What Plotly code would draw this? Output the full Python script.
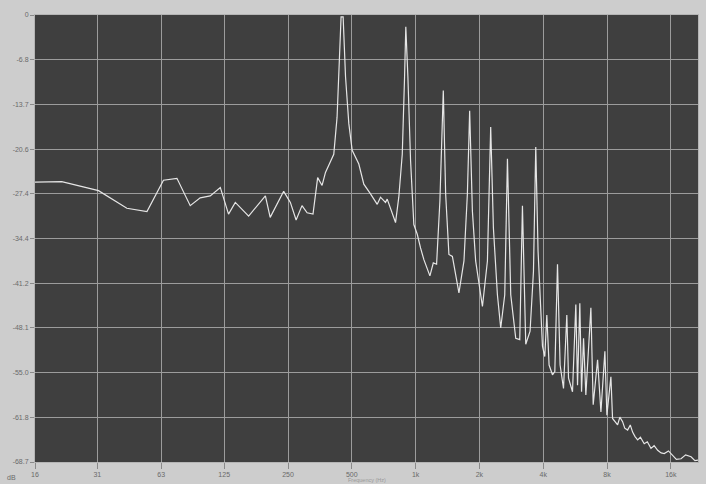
import math
import plotly.graph_objects as go

# Spectrum trace: frequency (Hz) and level (dB)
freq_hz = [16, 21.4, 31.9, 43.4, 54, 64.6, 74.8, 86.4, 96.3, 107.4, 119.8, 131, 141, 163,
           195.5, 206, 238.5, 256.5, 273, 291, 307.7, 328, 345, 362, 375.6, 396.5, 411, 426,
           438.7, 445, 455, 467, 484, 502, 539.5, 569.7, 612.6, 659, 683, 721, 734.5, 776,
           804, 833, 865, 887, 899, 919.5, 946.7, 981, 1018,
           1055, 1094, 1168, 1212, 1256, 1302, 1351, 1386, 1436, 1491, 1601, 1691, 1755, 1799,
           1853, 1920, 2067, 2182, 2261, 2328, 2432, 2521, 2634, 2712, 2811, 2968, 3100, 3192,
           3309, 3468, 3598, 3689, 3783, 3968, 4070, 4160, 4264, 4424, 4538, 4672, 4806, 4987,
           5170, 5267, 5499, 5701, 5808, 5955, 6067, 6200, 6357, 6715, 6885, 7221, 7488, 7818,
           7990, 8346, 8498, 8976, 9200, 9477, 9700, 10008, 10300, 10565, 10850, 11158, 11500,
           11986, 12400, 12898, 13350, 13872, 14400, 14901, 15600, 16328, 17000, 17881, 18800,
           19937, 20800, 21741]
level_db = [-25.7, -25.6, -27.0, -29.7, -30.2, -25.4, -25.1, -29.3, -28.1, -27.8, -26.5, -30.6,
            -28.8, -30.9, -27.8, -31.1, -27.1, -28.8, -31.5, -29.3, -30.4, -30.6, -25.0, -26.2,
            -24.2, -22.6, -21.4, -15.7, -4.4, -0.3, -0.3, -9.5, -16.7, -20.8, -22.9, -26.0,
            -27.5, -29.1, -28.0, -28.8, -28.3, -30.4, -31.9, -28.0, -21.4, -9.5, -1.8, -9.5,
            -22.4, -32.2, -33.7,
            -35.8, -37.6, -40.1, -38.1, -38.3, -28.6, -11.6, -27.5, -36.8, -37.1, -42.7, -37.8,
            -27.5, -14.7, -30.1, -37.8, -44.8, -37.8, -17.2, -32.7, -43.0, -48.1, -43.0, -22.1,
            -43.0, -49.7, -49.9, -29.3, -50.6, -48.6, -39.4, -20.3, -36.3, -50.9, -52.5, -46.1,
            -53.8, -55.3, -54.8, -38.3, -53.8, -57.4, -46.1, -55.8, -57.9, -44.5, -56.9, -44.3,
            -57.9, -49.7, -58.4, -45.0, -59.9, -53.0, -61.0, -51.7, -61.5, -55.6, -62.0, -63.0,
            -61.8, -62.5, -63.5, -63.8, -63.0, -64.1, -64.8, -65.3, -64.9, -65.9, -65.6, -66.6,
            -66.2, -66.9, -67.3, -67.4, -67.0, -67.7, -68.3, -68.2, -67.6, -67.9, -68.5, -68.4]

x_tick_vals = [16, 31.5, 63, 125, 250, 500, 1000, 2000, 4000, 8000, 16000]
x_tick_text = ["16", "31", "63", "125", "250", "500", "1k", "2k", "4k", "8k", "16k"]
y_tick_vals = [0, -6.87, -13.74, -20.61, -27.48, -34.35, -41.22, -48.09, -54.96, -61.83, -68.7]
y_tick_text = ["0", "-6.8", "-13.7", "-20.6", "-27.4", "-34.4", "-41.2", "-48.1", "-55.0",
               "-61.8", "-68.7"]

fig = go.Figure()
fig.add_trace(go.Scatter(x=freq_hz, y=level_db, mode="lines",
                         line=dict(color="#e6e6e6", width=1.2), showlegend=False))

fig.update_layout(
    width=706, height=484,
    margin=dict(l=35, r=8, t=15, b=22),
    paper_bgcolor="#cdcdcd",
    plot_bgcolor="#3f3f3f",
    font=dict(family="Liberation Sans, Arial", size=7, color="#6a6a6a"),
    xaxis=dict(type="log", range=[math.log10(16), math.log10(21500)],
               tickvals=x_tick_vals, ticktext=x_tick_text, automargin=False,
               showgrid=True, gridcolor="#9c9c9c", gridwidth=1,
               ticks="outside", ticklen=6, tickcolor="#8a8a8a",
               showline=True, linecolor="#b5b5b5", mirror=True, zeroline=False),
    yaxis=dict(range=[-68.7, 0], tickvals=y_tick_vals, ticktext=y_tick_text,
               automargin=False,
               showgrid=True, gridcolor="#9c9c9c", gridwidth=1,
               ticks="outside", ticklen=4, tickcolor="#8a8a8a",
               showline=True, linecolor="#b5b5b5", mirror=True, zeroline=False),
    annotations=[
        dict(text="dB", xref="paper", yref="paper", x=-0.035, y=-0.022,
             xanchor="center", yanchor="top", showarrow=False,
             font=dict(size=7, color="#6a6a6a")),
        dict(text="Frequency (Hz)", xref="paper", yref="paper", x=0.5, y=-0.03,
             xanchor="center", yanchor="top", showarrow=False,
             font=dict(size=5.5, color="#9a9a9a")),
    ],
)

fig.write_html("out.html",
               config={"displayModeBar": False},
               post_script="document.body.style.margin='0';"
                           "document.body.style.background='#cdcdcd';")
